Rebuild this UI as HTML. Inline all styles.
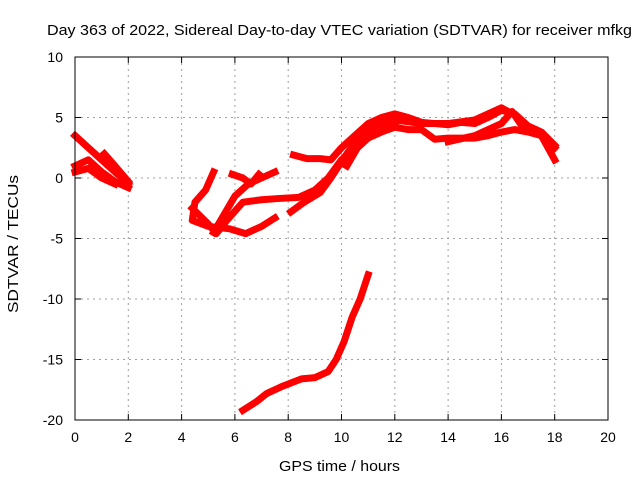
<!DOCTYPE html>
<html><head><meta charset="utf-8"><style>
body{margin:0;background:#fff}
svg text{font-family:"Liberation Sans",sans-serif;font-size:14px;fill:#000}
</style></head><body>
<svg id="chart" width="640" height="480">
<text x="47" y="35" textLength="585" lengthAdjust="spacingAndGlyphs" style="font-size:15px">Day 363 of 2022, Sidereal Day-to-day VTEC variation (SDTVAR) for receiver mfkg</text>
<text x="279" y="471" textLength="121" lengthAdjust="spacingAndGlyphs" style="font-size:15px">GPS time / hours</text>
<text transform="translate(18,313) rotate(-90)" textLength="138" lengthAdjust="spacingAndGlyphs" style="font-size:15px">SDTVAR / TECUs</text>
<g id="grid"></g><g id="series"></g><g id="axes"></g>
</svg>
<script>
const xTicks=[0,2,4,6,8,10,12,14,16,18,20];
const yTicks=[10,5,0,-5,-10,-15,-20];
const trackA=[[0,3.5],[0.5,2.5],[1,1.5],[1.5,0.5],[2,-0.5]];
const trackB=[[0,1],[0.5,1.5],[1,0.5],[1.5,-0.3],[2,-0.8]];
const trackC=[[0,0.5],[0.5,0.8],[1,0],[1.5,-0.5]];
const trackD=[[1.1,2],[1.5,1],[2,-0.3]];
const trackE=[[4.4,-2.5],[5.0,-3.8],[5.3,-4.6],[5.7,-3.5],[6.3,-2.0],[7,-1.8],[7.6,-1.7],[8.4,-1.6],[9,-1.0],[9.5,0],[10,1.5],[10.5,2.5],[11,3.5],[11.5,4.5],[12,4.8],[13,4.5],[14,4.5],[15,4.8],[16,5.8],[16.5,5.2],[17,4.2],[17.5,3.5],[18,1.5]];
const trackF=[[5.2,0.5],[4.9,-1],[4.5,-2],[4.4,-3.5],[5,-4],[5.8,-4.2],[6.4,-4.6],[7,-4],[7.5,-3.3]];
const trackG=[[5.2,-4.5],[5.6,-3],[6.0,-1.5],[6.5,-0.5],[7,0],[7.5,0.5]];
const trackH=[[5.9,0.3],[6.3,0],[6.6,-0.5],[6.9,0.3]];
const trackI=[[8.1,-2.8],[8.6,-2],[9.2,-1.2],[9.6,0],[10.2,2],[10.6,3.2],[11.2,4.2],[12,4.6]];
const trackJ=[[8.2,1.9],[8.7,1.6],[9.2,1.6],[9.6,1.5],[10,2.5],[10.5,3.5],[11,4.5],[11.5,5],[12,5.3],[12.5,5],[13,4.6],[13.5,4.5],[14,4.4],[14.5,4.6],[15,4.5],[15.5,5],[16,5.6],[16.5,5.3],[17,4.3],[17.5,3.8],[18,2.7]];
const trackK=[[10.2,1],[10.6,2.5],[11,3.3],[11.5,3.8],[12,4.2],[12.5,4],[13,4],[13.5,3.2],[14,3.3],[15,3.3],[15.5,3.5],[16,3.8],[16.5,4],[17,3.8],[17.5,3.5],[18,2.5]];
const trackL=[[14,3],[15,3.5],[16,4.5],[16.4,5.5],[16.8,4.2],[17.2,4]];
const trackM=[[6.3,-19.2],[6.8,-18.5],[7.2,-17.8],[7.8,-17.2],[8.5,-16.6],[9,-16.5],[9.5,-16],[9.8,-15],[10.1,-13.5],[10.4,-11.5],[10.7,-10],[11,-8]];
const tracks=[trackA,trackB,trackC,trackD,trackE,trackF,trackG,trackH,trackI,trackJ,trackK,trackL,trackM];
const X0=75,X1=608,Y0=420,Y1=57,xmin=0,xmax=20,ymin=-20,ymax=10;
const sx=v=>X0+(v-xmin)/(xmax-xmin)*(X1-X0);
const sy=v=>Y0-(v-ymin)/(ymax-ymin)*(Y0-Y1);
const NS="http://www.w3.org/2000/svg";
function mk(t,a,p){const e=document.createElementNS(NS,t);for(const k in a)e.setAttribute(k,a[k]);p.appendChild(e);return e;}
const grid=document.getElementById('grid'),axes=document.getElementById('axes'),ser=document.getElementById('series');
xTicks.forEach(t=>{const x=sx(t);
 if(t>xmin&&t<xmax){const g=mk('line',{x1:x,x2:x,y1:Y1,y2:Y0,stroke:'#a0a0a0','stroke-dasharray':'2,4'},grid);
 
 }
 mk('line',{x1:x,x2:x,y1:Y0,y2:Y0-6,stroke:'#000'},axes);mk('line',{x1:x,x2:x,y1:Y1,y2:Y1+6,stroke:'#000'},axes);
 const l=mk('text',{x:x,y:Y0+22,'text-anchor':'middle'},axes);l.textContent=t;
 
 });
yTicks.forEach(t=>{const y=sy(t);
 if(t>ymin&&t<ymax){const g=mk('line',{x1:X0,x2:X1,y1:y,y2:y,stroke:'#a0a0a0','stroke-dasharray':'2,4'},grid);
 
 }
 mk('line',{x1:X0,x2:X0+6,y1:y,y2:y,stroke:'#000'},axes);mk('line',{x1:X1,x2:X1-6,y1:y,y2:y,stroke:'#000'},axes);
 const l=mk('text',{x:X0-12,y:y+5,'text-anchor':'end'},axes);l.textContent=t;
 
 });
const fr=mk('rect',{x:X0,y:Y1,width:X1-X0,height:Y0-Y1,fill:'none',stroke:'#000'},axes);


tracks.forEach(tr=>{const p=mk('polyline',{points:tr.map(d=>sx(d[0])+','+sy(d[1])).join(' '),fill:'none',stroke:'#ff0000','stroke-width':7,'stroke-linejoin':'round','stroke-linecap':'square'},ser);
 
 });
</script>
</body></html>
